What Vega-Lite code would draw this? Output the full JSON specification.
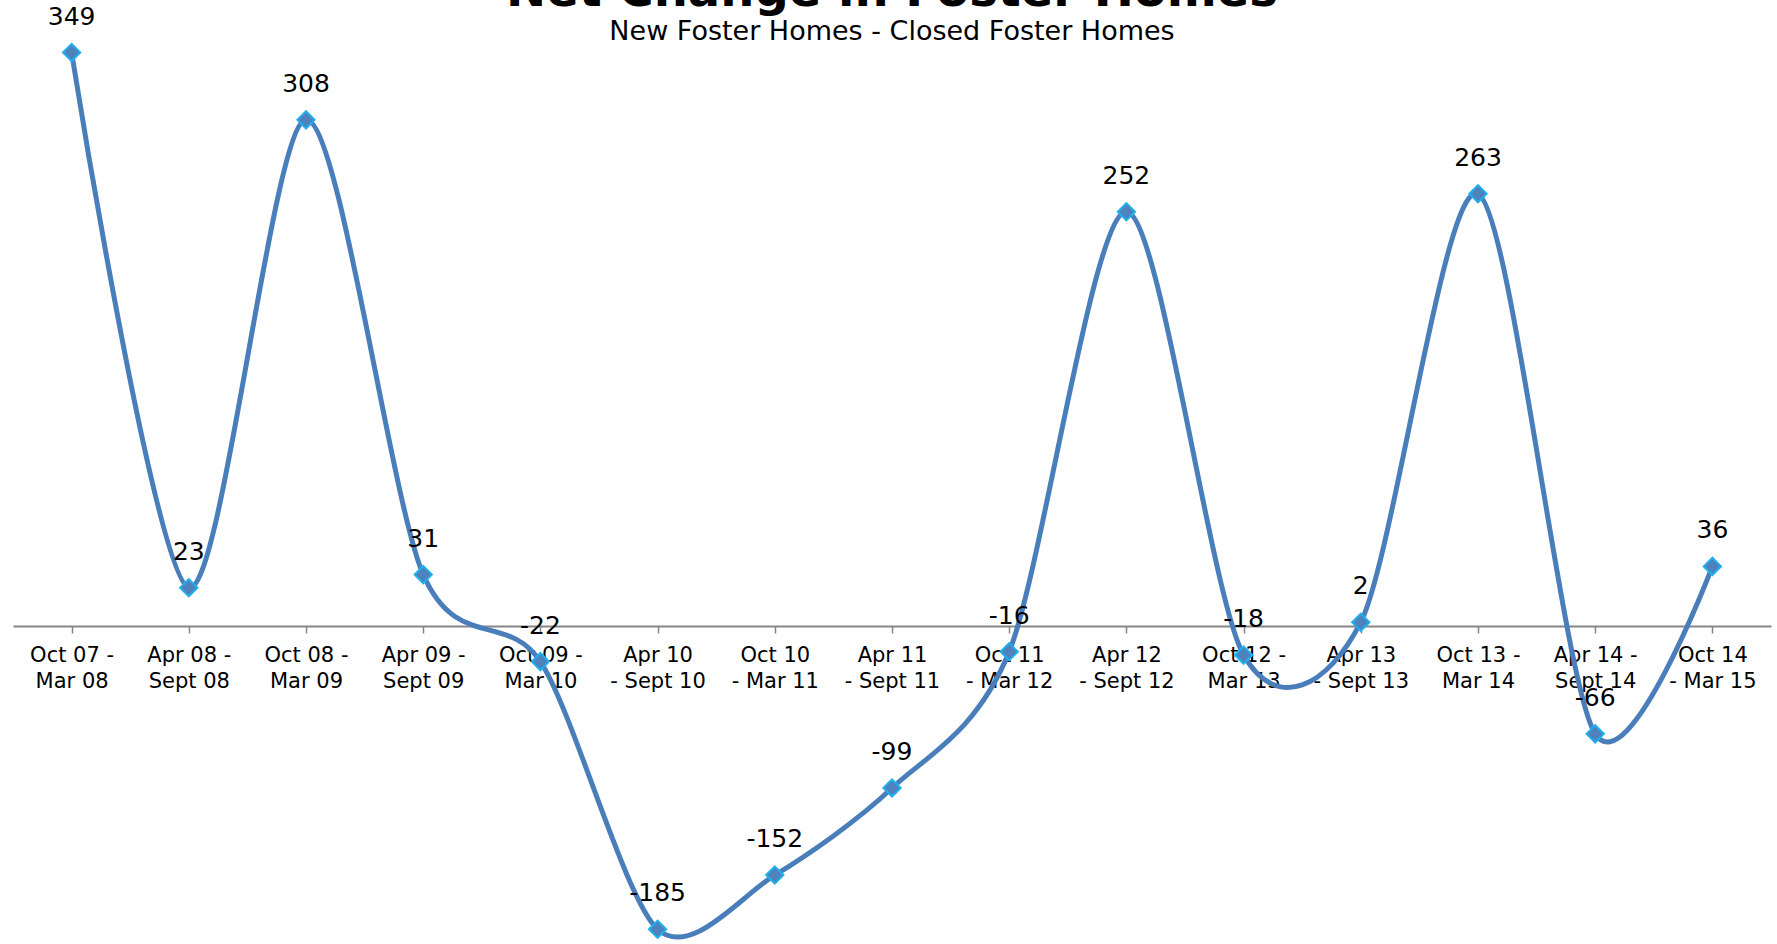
{
  "$schema": "https://vega.github.io/schema/vega-lite/v6.json",
  "width": 1758,
  "height": 944,
  "autosize": {"type": "none"},
  "padding": {"left": 13, "top": 0, "right": 6, "bottom": 0},
  "background": "white",
  "config": {"view": {"stroke": null}, "font": "DejaVu Sans"},
  "title": {
    "text": "Net Change in Foster Homes",
    "subtitle": "New Foster Homes - Closed Foster Homes",
    "anchor": "middle",
    "frame": "group",
    "offset": -45,
    "fontSize": 48,
    "fontWeight": "bold",
    "color": "#000000",
    "subtitleFontSize": 27,
    "subtitleColor": "#000000",
    "subtitlePadding": 3,
    "font": "DejaVu Sans",
    "subtitleFont": "DejaVu Sans"
  },
  "data": {
    "values": [
      {"period": "Oct 07 -|Mar 08", "net": 349},
      {"period": "Apr 08 -|Sept 08", "net": 23},
      {"period": "Oct 08 -|Mar 09", "net": 308},
      {"period": "Apr 09 -|Sept 09", "net": 31},
      {"period": "Oct 09 -|Mar 10", "net": -22},
      {"period": "Apr 10|- Sept 10", "net": -185},
      {"period": "Oct 10|- Mar 11", "net": -152},
      {"period": "Apr 11|- Sept 11", "net": -99},
      {"period": "Oct 11|- Mar 12", "net": -16},
      {"period": "Apr 12|- Sept 12", "net": 252},
      {"period": "Oct 12 -|Mar 13", "net": -18},
      {"period": "Apr 13|- Sept 13", "net": 2},
      {"period": "Oct 13 -|Mar 14", "net": 263},
      {"period": "Apr 14 -|Sept 14", "net": -66},
      {"period": "Oct 14|- Mar 15", "net": 36}
    ]
  },
  "encoding": {
    "x": {
      "field": "period",
      "type": "nominal",
      "sort": null,
      "scale": {"paddingInner": 0, "paddingOuter": 0},
      "axis": {
        "title": null,
        "labelAngle": 0,
        "labelExpr": "split(datum.label, '|')",
        "labelFontSize": 21,
        "labelLineHeight": 26,
        "labelColor": "#000000",
        "labelFont": "DejaVu Sans",
        "labelPadding": 11,
        "bandPosition": 0,
        "tickSize": 7,
        "tickColor": "#868686",
        "tickWidth": 1.5,
        "domainColor": "#868686",
        "domainWidth": 2,
        "offset": -318,
        "grid": false,
        "labelBound": false,
        "labelOverlap": false
      }
    },
    "y": {
      "field": "net",
      "type": "quantitative",
      "scale": {"domain": [-194, 381], "nice": false, "zero": false},
      "axis": null
    }
  },
  "layer": [
    {
      "mark": {"type": "line", "interpolate": "cardinal", "tension": 0.15, "color": "#4A7EBB", "strokeWidth": 5}
    },
    {
      "mark": {"type": "point", "shape": "diamond", "size": 300, "filled": true, "fill": "#4F81BD", "stroke": "#1FB0EE", "strokeWidth": 2, "opacity": 1}
    },
    {
      "mark": {"type": "text", "dy": -36, "baseline": "middle", "fontSize": 25, "color": "#000000", "font": "DejaVu Sans"},
      "encoding": {"text": {"field": "net", "type": "nominal"}}
    }
  ]
}
